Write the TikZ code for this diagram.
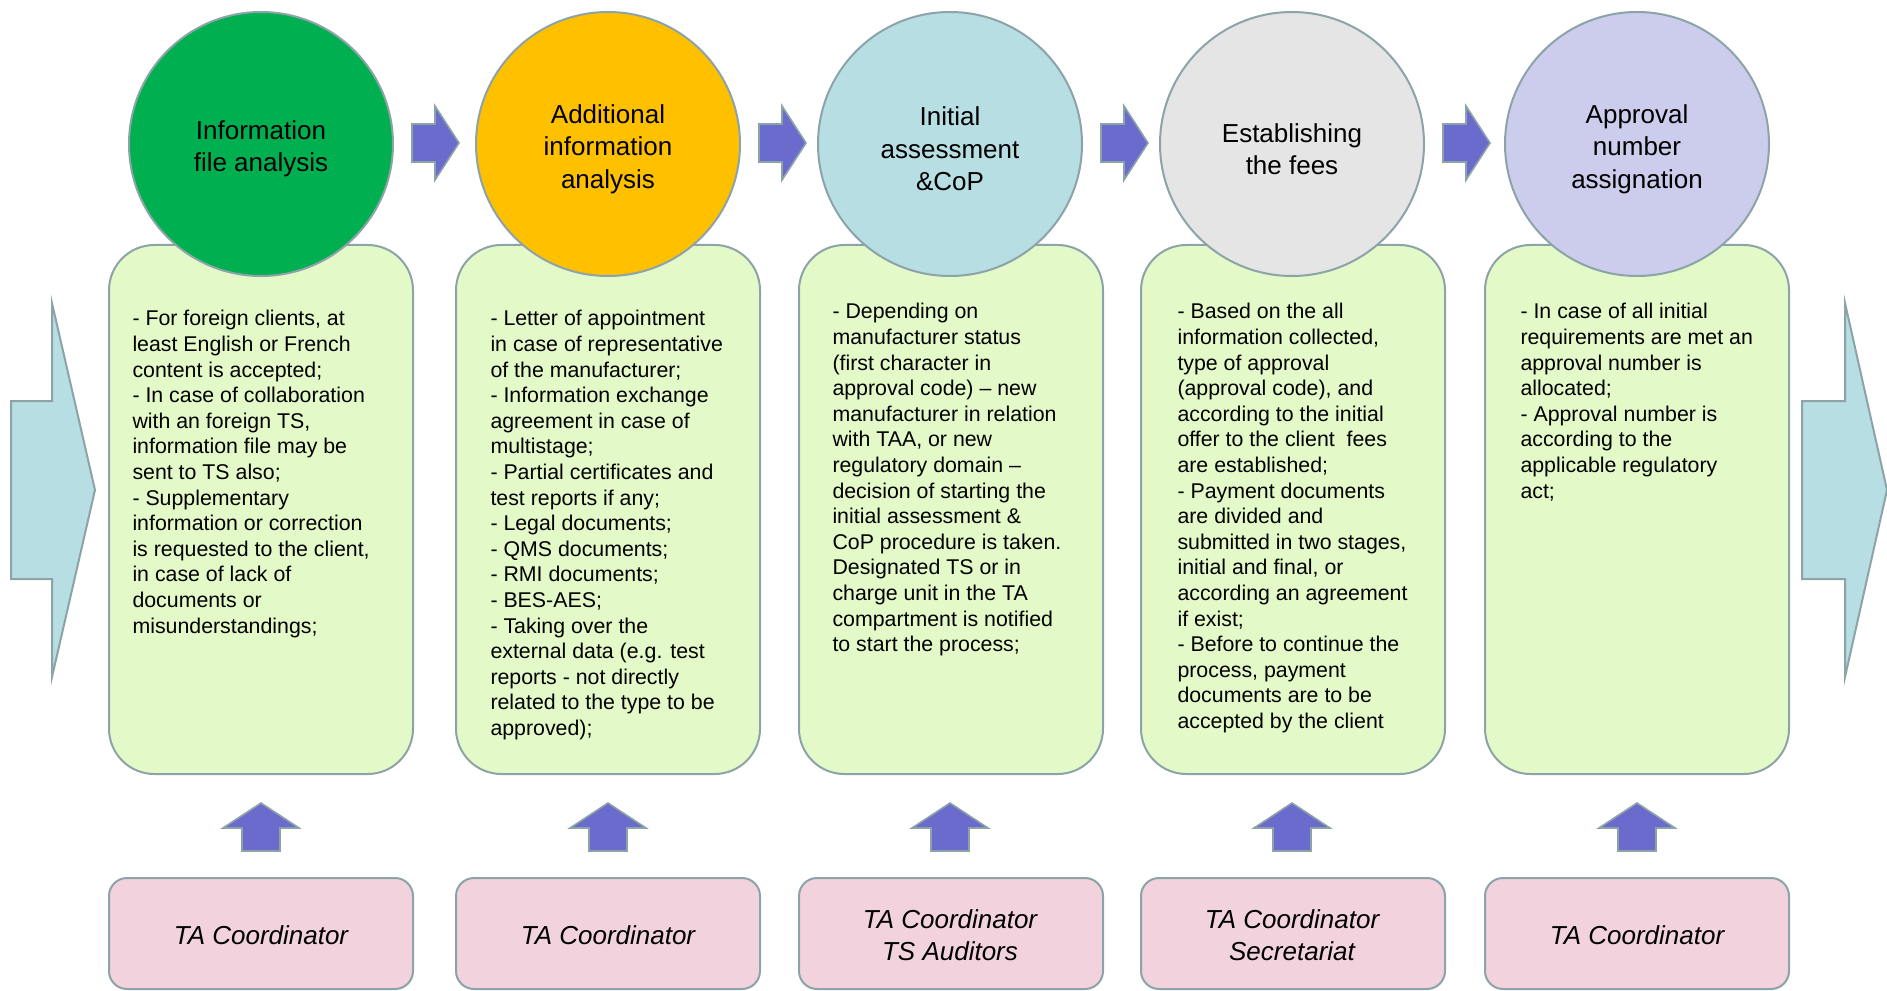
\documentclass[tikz,border=0pt]{standalone}
\usepackage{fontspec}
\setmainfont{Liberation Sans}

\definecolor{edgegray}{RGB}{140,163,168}
\definecolor{notegreen}{RGB}{228,249,200}
\definecolor{rolepink}{RGB}{241,210,221}
\definecolor{arrowblue}{RGB}{107,107,205}
\definecolor{stagegreen}{RGB}{0,176,80}
\definecolor{stageorange}{RGB}{255,192,0}
\definecolor{stageblue}{RGB}{183,222,226}
\definecolor{stagegray}{RGB}{229,229,229}
\definecolor{stagelilac}{RGB}{204,204,236}

\tikzset{every picture/.style={line width=0.75pt}}
\tikzset{
  stagecirc/.style={circle, draw=edgegray, line width=1.5pt, minimum size=198pt, inner sep=0pt},
  stagetext/.style={inner sep=0pt, align=center, font=\fontsize{19.5}{24.4}\selectfont},
  notebox/.style={draw=edgegray, line width=1.5pt, fill=notegreen, rounded corners=34pt},
  rolebox/.style={draw=edgegray, line width=1.5pt, fill=rolepink, rounded corners=13.5pt},
  flowarrow/.style={draw=edgegray, line width=1.2pt, fill=arrowblue},
  bigarrow/.style={draw=edgegray, line width=1.5pt, fill=stageblue},
  notetext/.style={anchor=north west, inner sep=0pt, align=left, font=\fontsize{16}{19.2}\selectfont},
  roletext/.style={inner sep=0pt, align=center, font=\fontsize{19.5}{24.4}\selectfont\itshape}
}

\begin{document}
\begin{tikzpicture}[x=0.75pt,y=0.75pt,yscale=-1,xscale=1]
    \useasboundingbox (0,0) rectangle (1887,991);

    %Shape: Big Arrow (in)
    \draw [bigarrow] (11,401) -- (52,401) -- (52,303) -- (95,490) -- (52,677) -- (52,579) -- (11,579) -- cycle ;
    %Shape: Big Arrow (out)
    \draw [bigarrow] (1802,401) -- (1845,401) -- (1845,303) -- (1887,490) -- (1845,677) -- (1845,579) -- (1802,579) -- cycle ;

    %Shape: Rounded Rectangle (notes)
    \draw [notebox] (109,245) rectangle (413,774) ;
    \draw [notebox] (456,245) rectangle (760,774) ;
    \draw [notebox] (799,245) rectangle (1103,774) ;
    \draw [notebox] (1141,245) rectangle (1445,774) ;
    \draw [notebox] (1485,245) rectangle (1789,774) ;

    %Shape: Circle (stages)
    \node [stagecirc, fill=stagegreen] (stage1) at (261,144) {};
    \node [stagecirc, fill=stageorange] (stage2) at (608,144) {};
    \node [stagecirc, fill=stageblue] (stage3) at (950,144) {};
    \node [stagecirc, fill=stagegray] (stage4) at (1292,144) {};
    \node [stagecirc, fill=stagelilac] (stage5) at (1637,144) {};

    % Text Node
    \node [stagetext] (title1) at (261,149) {Information\\file analysis};
    % Text Node
    \node [stagetext] (title2) at (608,149) {Additional\\information\\analysis};
    % Text Node
    \node [stagetext] (title3) at (950,149) {Initial\\assessment\\\&CoP};
    % Text Node
    \node [stagetext] (title4) at (1292,149) {Establishing\\the fees};
    % Text Node
    \node [stagetext] (title5) at (1637,149) {Approval\\number\\assignation};

    %Shape: Right Arrow (between stages)
    \draw [flowarrow] (412,124) -- (435,124) -- (435,106) -- (459,143) -- (435,180) -- (435,162) -- (412,162) -- cycle ;
    \draw [flowarrow] (759,124) -- (782,124) -- (782,106) -- (806,143) -- (782,180) -- (782,162) -- (759,162) -- cycle ;
    \draw [flowarrow] (1101,124) -- (1124,124) -- (1124,106) -- (1148,143) -- (1124,180) -- (1124,162) -- (1101,162) -- cycle ;
    \draw [flowarrow] (1443,124) -- (1466,124) -- (1466,106) -- (1490,143) -- (1466,180) -- (1466,162) -- (1443,162) -- cycle ;

    %Shape: Up Arrow (roles)
    \draw [flowarrow] (261,803) -- (299,828) -- (280,828) -- (280,851) -- (242,851) -- (242,828) -- (223,828) -- cycle ;
    \draw [flowarrow] (608,803) -- (646,828) -- (627,828) -- (627,851) -- (589,851) -- (589,828) -- (570,828) -- cycle ;
    \draw [flowarrow] (950,803) -- (988,828) -- (969,828) -- (969,851) -- (931,851) -- (931,828) -- (912,828) -- cycle ;
    \draw [flowarrow] (1292,803) -- (1330,828) -- (1311,828) -- (1311,851) -- (1273,851) -- (1273,828) -- (1254,828) -- cycle ;
    \draw [flowarrow] (1637,803) -- (1675,828) -- (1656,828) -- (1656,851) -- (1618,851) -- (1618,828) -- (1599,828) -- cycle ;

    %Shape: Rounded Rectangle (roles)
    \draw [rolebox] (109,878) rectangle (413,989) ;
    \draw [rolebox] (456,878) rectangle (760,989) ;
    \draw [rolebox] (799,878) rectangle (1103,989) ;
    \draw [rolebox] (1141,878) rectangle (1445,989) ;
    \draw [rolebox] (1485,878) rectangle (1789,989) ;

    % Text Node
    \node [notetext] (note1) at (132,310) {- For foreign clients, at\\least English or French\\content is accepted;\\- In case of collaboration\\with an foreign TS,\\information file may be\\sent to TS also;\\- Supplementary\\information or correction\\is requested to the client,\\in case of lack of\\documents or\\misunderstandings;};
    % Text Node
    \node [notetext] (note2) at (490,310) {- Letter of appointment\\in case of representative\\of the manufacturer;\\- Information exchange\\agreement in case of\\multistage;\\- Partial certificates and\\test reports if any;\\- Legal documents;\\- QMS documents;\\- RMI documents;\\- BES-AES;\\- Taking over the\\external data (e.g. test\\reports - not directly\\related to the type to be\\approved);};
    % Text Node
    \node [notetext] (note3) at (832,303) {- Depending on\\manufacturer status\\(first character in\\approval code) – new\\manufacturer in relation\\with TAA, or new\\regulatory domain –\\decision of starting the\\initial assessment \&\\CoP procedure is taken.\\Designated TS or in\\charge unit in the TA\\compartment is notified\\to start the process;};
    % Text Node
    \node [notetext] (note4) at (1177,303) {- Based on the all\\information collected,\\type of approval\\(approval code), and\\according to the initial\\offer to the client\ \ fees\\are established;\\- Payment documents\\are divided and\\submitted in two stages,\\initial and final, or\\according an agreement\\if exist;\\- Before to continue the\\process, payment\\documents are to be\\accepted by the client};
    % Text Node
    \node [notetext] (note5) at (1520,303) {- In case of all initial\\requirements are met an\\approval number is\\allocated;\\- Approval number is\\according to the\\applicable regulatory\\act;};

    % Text Node
    \node [roletext] (role1) at (261,935) {TA Coordinator};
    % Text Node
    \node [roletext] (role2) at (608,935) {TA Coordinator};
    % Text Node
    \node [roletext] (role3) at (950,935) {TA Coordinator\\TS Auditors};
    % Text Node
    \node [roletext] (role4) at (1292,935) {TA Coordinator\\Secretariat};
    % Text Node
    \node [roletext] (role5) at (1637,935) {TA Coordinator};

\end{tikzpicture}
\end{document}
